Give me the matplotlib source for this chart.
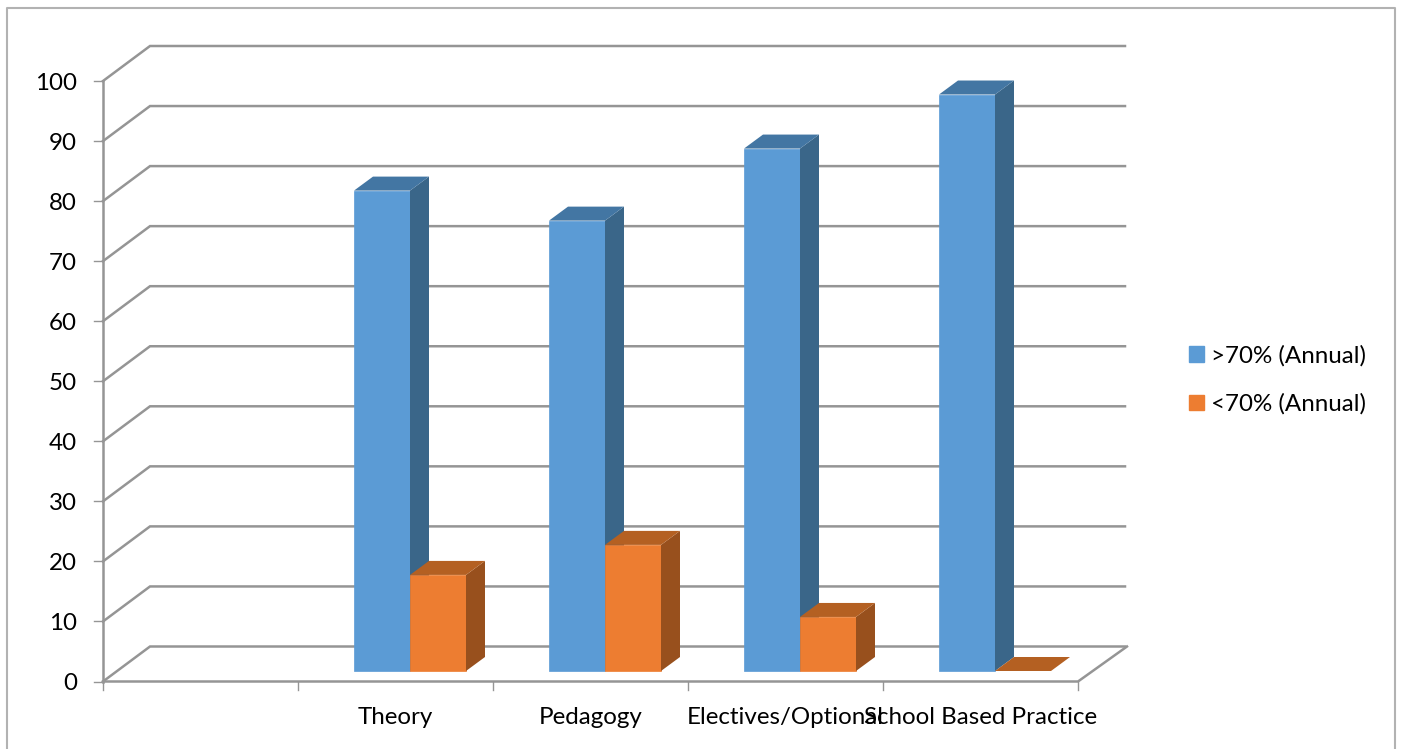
import matplotlib
matplotlib.use('Agg')
import matplotlib.pyplot as plt
from matplotlib.patches import Patch

# Colors
BLUE = '#5B9BD5'
BLUE_TOP = '#4376A3'
BLUE_SIDE = '#3A6689'
ORANGE = '#ED7D31'
ORANGE_TOP = '#B46022'
ORANGE_SIDE = '#98501D'
GRID = '#959595'
FRAME = '#B2B2B2'

categories = ['', 'Theory', 'Pedagogy', 'Electives/Optional', 'School Based Practice']
above_70 = [None, 80, 75, 87, 96]
below_70 = [None, 16, 21, 9, 0]
y_ticks = [0, 10, 20, 30, 40, 50, 60, 70, 80, 90, 100]

# scale of the picture, in pixels
W, H = 1402, 749
X0, Y0 = 103, 681.5
PX_CAT = 195.0
PX_VAL = 6.005
FONT = 17.4


def px_x(p):
    return p / PX_CAT


def px_y(p):
    return p / PX_VAL


WALL_DX, WALL_DY = px_x(47), px_y(35)
BAR_W = px_x(56)
BAR_DX, BAR_DY = px_x(19), px_y(14)
BAR_X0, BAR_Y0 = px_x(56), px_y(10.5)   # front face shift from the category start


def draw_box(ax, x, value, front, top, side, z):
    y0 = BAR_Y0
    y1 = BAR_Y0 + value
    if value > 0:
        ax.bar(x, value, BAR_W, bottom=y0, align='edge', color=front,
               edgecolor=front, linewidth=0.5, zorder=z)
        ax.fill([x + BAR_W, x + BAR_W + BAR_DX, x + BAR_W + BAR_DX, x + BAR_W],
                [y0, y0 + BAR_DY, y1 + BAR_DY, y1], color=side, lw=0, zorder=z)
    ax.fill([x, x + BAR_DX, x + BAR_W + BAR_DX, x + BAR_W],
            [y1, y1 + BAR_DY, y1 + BAR_DY, y1], color=top, lw=0, zorder=z)


plt.rcParams['font.family'] = ['Lato', 'DejaVu Sans']

fig = plt.figure(figsize=(W / 100, H / 100), dpi=100)
ax = fig.add_axes([0, 0, 1, 1])
ax.set_xlim(-X0 / PX_CAT, (W - X0) / PX_CAT)
ax.set_ylim((Y0 - H) / PX_VAL, Y0 / PX_VAL)
ax.axis('off')

# outer frame, open at the bottom
ax.plot([6.5 / W, 6.5 / W, 1395 / W, 1395 / W], [0, 1 - 7.5 / H, 1 - 7.5 / H, 0],
        transform=ax.transAxes, color=FRAME, lw=1.5, clip_on=False)

n = len(categories)

# back wall and side wall lines
for v in y_ticks:
    ax.plot([0, WALL_DX, n + WALL_DX], [v, v + WALL_DY, v + WALL_DY],
            color=GRID, lw=1.8, solid_joinstyle='miter', zorder=1)
    ax.plot([-px_x(9), 0], [v, v], color=GRID, lw=1.0, zorder=1)
    ax.text(-px_x(26), v - px_y(2.5), str(v), ha='right', va='center',
            fontsize=FONT, color='black')

# floor edge and axes
ax.plot([0, 0], [0, 100], color=GRID, lw=1.8, zorder=1)
ax.plot([0, n, n + WALL_DX + px_x(2)], [0, 0, WALL_DY], color=GRID, lw=1.8, zorder=1)
for i in range(n + 1):
    ax.plot([i, i], [0, -px_y(8)], color=GRID, lw=1.0, zorder=1)

# bars, painted left to right
for i in range(1, n):
    x = i + BAR_X0
    draw_box(ax, x, above_70[i], BLUE, BLUE_TOP, BLUE_SIDE, 3 + i)
    draw_box(ax, x + BAR_W, below_70[i], ORANGE, ORANGE_TOP, ORANGE_SIDE, 3.5 + i)
    ax.text(i + 0.5, -px_y(36), categories[i], ha='center', va='center',
            fontsize=FONT, color='black', zorder=20)

handles = [Patch(color=BLUE, label='>70% (Annual)'),
           Patch(color=ORANGE, label='<70% (Annual)')]
ax.legend(handles=handles, loc='center left', frameon=False,
          bbox_to_anchor=(1189 / W, 1 - 380 / H), borderpad=0, borderaxespad=0,
          fontsize=FONT, handlelength=0.62, handleheight=0.62,
          handletextpad=0.3, labelspacing=1.12)

fig.savefig('out.png', dpi=100, facecolor='white')
